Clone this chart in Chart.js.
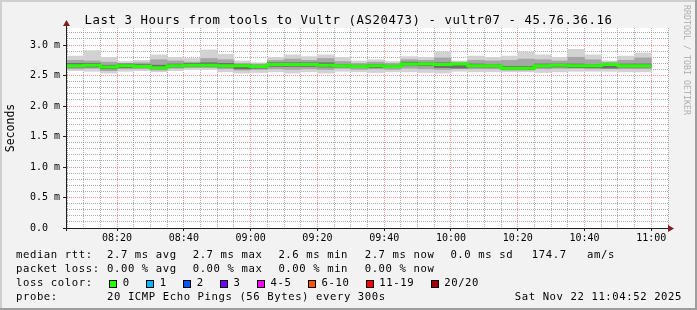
<!DOCTYPE html>
<html>
<head>
<meta charset="utf-8">
<title>Last 3 Hours from tools to Vultr (AS20473) - vultr07</title>
<script src="https://cdn.jsdelivr.net/npm/chart.js@4/dist/chart.umd.min.js"></script>
<style>
	html, body { margin: 0; padding: 0; background: #f2f2f2; }
	#wrap { position: relative; width: 697px; height: 310px; overflow: hidden; font-family: 'DejaVu Sans Mono', monospace; color: #000; }
	#chart { position: absolute; left: 0; top: 0; }
	.txt { position: absolute; white-space: pre; margin: 0; }
	#title { left: 0; top: 12px; width: 697px; text-align: center; font-size: 12.3px; letter-spacing: 0.6px; line-height: 16px; }
	.leg { font-size: 10.6px; letter-spacing: 0.59px; line-height: 14px; }
	.lossbox { position: absolute; width: 8px; height: 8px; box-sizing: border-box; border: 1px solid #000; }
	#stamp { right: 15px; }
	#rrd { left: 627px; top: 55px; width: 120px; height: 10px; line-height: 10px; text-align: center; font-size: 8.3px; color: rgba(0, 0, 0, 0.3); transform: rotate(90deg); }
</style>
</head>
<body>
<div id="wrap">
	<canvas id="chart" width="697" height="310"></canvas>
	<div class="txt" id="title">Last 3 Hours from tools to Vultr (AS20473) - vultr07 - 45.76.36.16</div>
	<div class="txt" id="rrd">RRDTOOL / TOBI OETIKER</div>
	<div class="txt leg" id="stamp" style="top:289px">Sat Nov 22 11:04:52 2025</div>
</div>
<script>
(function () {
	'use strict';

	// 5 minute bins (start time of each bin)
	var binTimes = [
		'08:05', '08:10', '08:15', '08:20', '08:25', '08:30', '08:35', '08:40', '08:45',
		'08:50', '08:55', '09:00', '09:05', '09:10', '09:15', '09:20', '09:25', '09:30',
		'09:35', '09:40', '09:45', '09:50', '09:55', '10:00', '10:05', '10:10', '10:15',
		'10:20', '10:25', '10:30', '10:35', '10:40', '10:45', '10:50', '10:55'
	];

	// rtt in ms
	var rttMedian = [
		2.66, 2.67, 2.64, 2.66, 2.65, 2.63, 2.66, 2.67, 2.67,
		2.66, 2.66, 2.65, 2.68, 2.68, 2.68, 2.67, 2.66, 2.65,
		2.66, 2.65, 2.69, 2.69, 2.68, 2.69, 2.66, 2.66, 2.62,
		2.62, 2.66, 2.67, 2.66, 2.66, 2.68, 2.66, 2.66
	];
	var rttMax = [
		2.82, 2.91, 2.80, 2.73, 2.75, 2.84, 2.80, 2.78, 2.92,
		2.85, 2.74, 2.71, 2.80, 2.84, 2.81, 2.84, 2.80, 2.74,
		2.76, 2.73, 2.81, 2.80, 2.89, 2.74, 2.82, 2.80, 2.82,
		2.89, 2.84, 2.80, 2.93, 2.84, 2.74, 2.82, 2.87
	];
	var rttMin = [
		2.58, 2.57, 2.54, 2.57, 2.58, 2.56, 2.58, 2.60, 2.60,
		2.56, 2.54, 2.55, 2.56, 2.54, 2.56, 2.54, 2.57, 2.56,
		2.55, 2.56, 2.56, 2.55, 2.54, 2.57, 2.56, 2.56, 2.56,
		2.56, 2.55, 2.56, 2.57, 2.57, 2.57, 2.56, 2.56
	];
	var rttHighQ = [
		2.75, 2.74, 2.72, 2.70, 2.71, 2.76, 2.74, 2.72, 2.78,
		2.76, 2.70, 2.69, 2.75, 2.77, 2.75, 2.78, 2.73, 2.70,
		2.72, 2.70, 2.76, 2.75, 2.79, 2.72, 2.75, 2.74, 2.75,
		2.77, 2.76, 2.74, 2.80, 2.76, 2.72, 2.75, 2.79
	];
	var rttLowQ = [
		2.61, 2.62, 2.58, 2.61, 2.61, 2.59, 2.62, 2.63, 2.63,
		2.61, 2.59, 2.60, 2.61, 2.60, 2.61, 2.60, 2.62, 2.60,
		2.61, 2.60, 2.62, 2.61, 2.60, 2.62, 2.61, 2.61, 2.59,
		2.59, 2.61, 2.62, 2.62, 2.61, 2.62, 2.61, 2.61
	];
	var rttDarkHi = [
		2.70, 2.70, 2.67, 2.69, 2.68, 2.67, 2.69, 2.70, 2.71,
		2.70, 2.68, 2.67, 2.71, 2.71, 2.71, 2.71, 2.68, 2.67,
		2.68, 2.67, 2.72, 2.71, 2.71, 2.70, 2.69, 2.68, 2.65,
		2.65, 2.69, 2.69, 2.69, 2.68, 2.69, 2.69, 2.69
	];
	var rttDarkLo = [
		2.64, 2.64, 2.61, 2.63, 2.63, 2.61, 2.64, 2.65, 2.65,
		2.64, 2.61, 2.62, 2.65, 2.65, 2.65, 2.64, 2.64, 2.63,
		2.63, 2.63, 2.67, 2.66, 2.63, 2.62, 2.64, 2.64, 2.60,
		2.60, 2.64, 2.64, 2.63, 2.63, 2.62, 2.64, 2.64
	];

	// axes
	var xStart = '08:05';
	var xEnd = '11:05';
	var xTickLabels = ['08:20', '08:40', '09:00', '09:20', '09:40', '10:00', '10:20', '10:40', '11:00'];
	var yTickValues = [0, 0.5, 1.0, 1.5, 2.0, 2.5, 3.0];
	var yTickLabels = ['0.0  ', '0.5 m', '1.0 m', '1.5 m', '2.0 m', '2.5 m', '3.0 m'];
	var yMax = 3.28;

	// legend text
	var rttItems = ['median rtt:', '2.7 ms avg', '2.7 ms max', '2.6 ms min', '2.7 ms now', '0.0 ms sd', '174.7', 'am/s'];
	var lossItems = ['packet loss:', '0.00 % avg', '0.00 % max', '0.00 % min', '0.00 % now'];
	var probeItems = ['probe:', '20 ICMP Echo Pings (56 Bytes) every 300s'];
	var lossLabels = ['0', '1', '2', '3', '4-5', '6-10', '11-19', '20/20'];
	var lossColors = ['#26ff00', '#00b8ff', '#0059ff', '#7000ff', '#ff00ff', '#ff5500', '#ff0000', '#a10000'];

	var FONT = "'DejaVu Sans Mono', monospace";
	var GRID = 'rgba(143, 143, 143, 0.75)';
	var MGRID = 'rgba(222, 79, 79, 0.6)';
	var AXIS = '#1f1f1f';
	var ARROW = '#801f1f';

	function toMin(s) {
		var p = s.split(':');
		return parseInt(p[0], 10) * 60 + parseInt(p[1], 10);
	}

	function band(lo, hi) {
		return binTimes.map(function (t, i) {
			return { x: toMin(t) + 2.5, y: [lo[i], hi[i]] };
		});
	}

	var xMajors = xTickLabels.map(toMin);
	function isMajorX(v) { return xMajors.indexOf(v) !== -1; }
	function yMajorIndex(v) {
		for (var i = 0; i < yTickValues.length; i++) {
			if (Math.abs(yTickValues[i] - v) < 1e-6) return i;
		}
		return -1;
	}

	var medianPts = binTimes.map(function (t, i) {
		return { x: toMin(t), y: rttMedian[i] };
	});
	var last = binTimes.length - 1;
	medianPts.push({ x: toMin(binTimes[last]) + 5, y: rttMedian[last] });

	// background, frame, axes with arrows
	var frame = {
		id: 'frame',
		beforeDraw: function (chart) {
			var ctx = chart.ctx, a = chart.chartArea, w = chart.width, h = chart.height;
			ctx.save();
			ctx.fillStyle = '#f2f2f2';
			ctx.fillRect(0, 0, w, h);
			ctx.fillStyle = '#cfcfcf';
			ctx.fillRect(0, 0, w, 2);
			ctx.fillRect(0, 0, 2, h);
			ctx.fillStyle = '#9e9e9e';
			ctx.fillRect(0, h - 2, w, 2);
			ctx.fillRect(w - 2, 0, 2, h);
			ctx.fillStyle = '#ffffff';
			ctx.fillRect(a.left, a.top, a.right - a.left, a.bottom - a.top);
			ctx.restore();
		},
		afterDraw: function (chart) {
			var ctx = chart.ctx, a = chart.chartArea;
			var ax = a.left - 0.5, ay = a.bottom + 0.5;
			ctx.save();
			ctx.strokeStyle = AXIS;
			ctx.lineWidth = 1;
			ctx.beginPath();
			ctx.moveTo(a.left - 4, ay);
			ctx.lineTo(a.right + 1, ay);
			ctx.moveTo(ax, a.bottom + 3);
			ctx.lineTo(ax, a.top - 3);
			ctx.stroke();
			ctx.fillStyle = ARROW;
			ctx.beginPath();
			ctx.moveTo(a.right + 6, ay);
			ctx.lineTo(a.right, ay - 3.5);
			ctx.lineTo(a.right, ay + 3.5);
			ctx.closePath();
			ctx.fill();
			ctx.beginPath();
			ctx.moveTo(ax, a.top - 8);
			ctx.lineTo(ax - 3.5, a.top - 2);
			ctx.lineTo(ax + 3.5, a.top - 2);
			ctx.closePath();
			ctx.fill();
			ctx.restore();
		}
	};

	var ctx = document.getElementById('chart');
	new Chart(ctx, {
		type: 'bar',
		data: {
			datasets: [
				{
					type: 'line',
					data: medianPts,
					stepped: 'before',
					borderColor: '#26ff00',
					borderWidth: 3,
					pointRadius: 0,
					fill: false,
					order: 0
				},
				{ data: band(rttDarkLo, rttDarkHi), backgroundColor: '#6e6e6e', order: 1 },
				{ data: band(rttLowQ, rttHighQ), backgroundColor: '#a6a6a6', order: 2 },
				{ data: band(rttMin, rttMax), backgroundColor: '#d2d2d2', order: 3 }
			]
		},
		options: {
			responsive: false,
			animation: false,
			events: [],
			layout: { padding: { left: 0, top: 28, right: 29, bottom: 0 } },
			datasets: {
				bar: { grouped: false, barPercentage: 1, categoryPercentage: 1, borderWidth: 0 }
			},
			plugins: {
				legend: { display: false },
				tooltip: { enabled: false },
				title: { display: false }
			},
			scales: {
				x: {
					type: 'linear',
					min: toMin(xStart),
					max: toMin(xEnd),
					offset: false,
					afterFit: function (s) { s.height = 82; },
					ticks: {
						stepSize: 5,
						autoSkip: false,
						maxRotation: 0,
						padding: 1,
						color: '#000',
						font: { family: FONT, size: 10 },
						callback: function (v) {
							var i = xMajors.indexOf(v);
							return i === -1 ? '' : xTickLabels[i];
						}
					},
					grid: {
						offset: false,
						lineWidth: 1,
						tickLength: 3,
						tickBorderDash: [],
						color: function (c) { return c.tick && isMajorX(c.tick.value) ? MGRID : GRID; },
						tickColor: function (c) { return c.tick && isMajorX(c.tick.value) ? AXIS : 'rgba(0,0,0,0)'; }
					},
					border: { display: false, dash: [1, 1] }
				},
				y: {
					min: 0,
					max: yMax,
					afterFit: function (s) { s.width = 67; },
					ticks: {
						stepSize: 0.1,
						includeBounds: false,
						autoSkip: false,
						padding: 3,
						color: '#000',
						font: { family: FONT, size: 10 },
						callback: function (v) {
							var i = yMajorIndex(v);
							return i === -1 ? '' : yTickLabels[i];
						}
					},
					grid: {
						lineWidth: 1,
						tickLength: 4,
						tickBorderDash: [],
						color: function (c) { return c.tick && yMajorIndex(c.tick.value) !== -1 ? MGRID : GRID; },
						tickColor: function (c) { return c.tick && yMajorIndex(c.tick.value) !== -1 ? AXIS : 'rgba(0,0,0,0)'; }
					},
					border: { display: false, dash: [1, 1] },
					title: {
						display: true,
						text: 'Seconds',
						color: '#000',
						font: { family: FONT, size: 11.5 },
						padding: { top: 4, bottom: 0 }
					}
				}
			}
		},
		plugins: [frame]
	});

	// legend rows, placed on the rrdtool column positions
	var wrap = document.getElementById('wrap');
	function put(text, x, y) {
		var t = document.createElement('div');
		t.className = 'txt leg';
		t.style.left = x + 'px';
		t.style.top = y + 'px';
		t.textContent = text;
		wrap.appendChild(t);
	}
	var rttCols = [16, 107, 192.7, 278.4, 364.7, 450.4, 531.8, 587];
	rttItems.forEach(function (s, i) { put(s, rttCols[i], 247); });
	lossItems.forEach(function (s, i) { put(s, rttCols[i], 261); });
	put('loss color:', 16, 275);
	probeItems.forEach(function (s, i) { put(s, rttCols[i], 289); });

	var charW = 6.97;
	var bx = 109;
	lossLabels.forEach(function (lbl, i) {
		var box = document.createElement('div');
		box.className = 'lossbox';
		box.style.left = bx + 'px';
		box.style.top = '279.5px';
		box.style.background = lossColors[i];
		wrap.appendChild(box);
		put(lbl, bx + 13.7, 275);
		bx += 14.3 + lbl.length * charW + 15.7;
	});
})();
</script>
</body>
</html>
